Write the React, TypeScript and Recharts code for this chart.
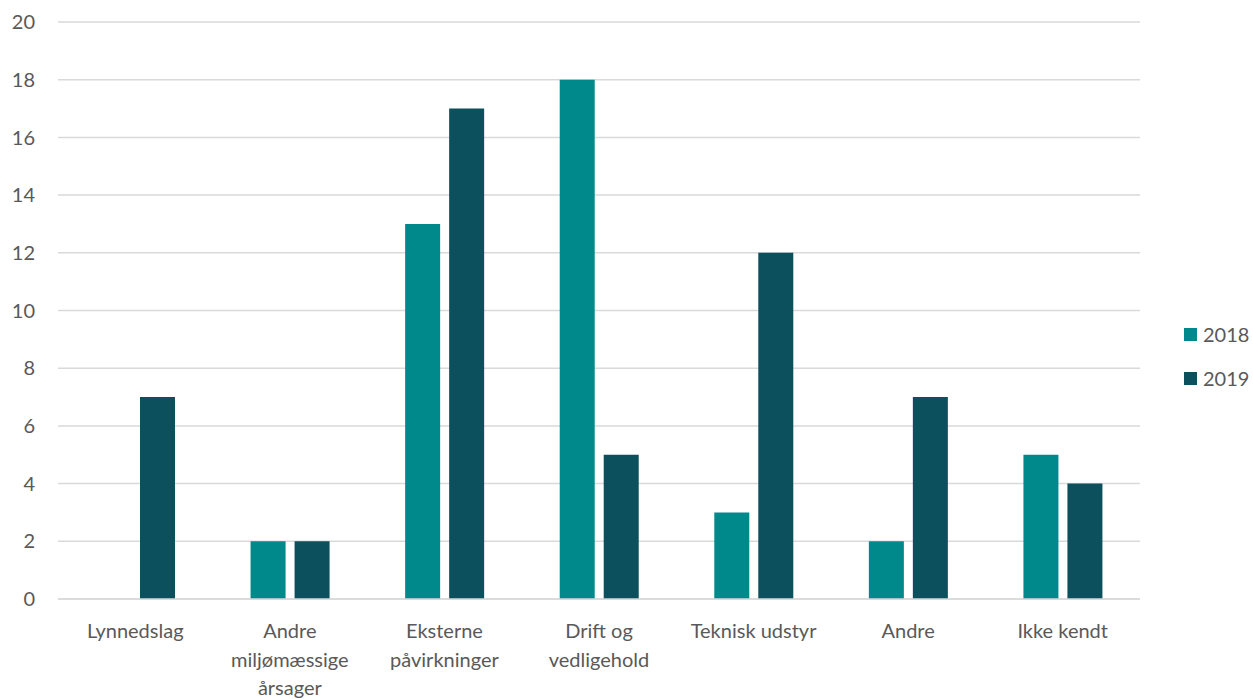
import { BarChart, Bar, XAxis, YAxis, CartesianGrid, Legend } from 'recharts'

const categories = [
  'Lynnedslag',
  'Andre\nmiljømæssige\nårsager',
  'Eksterne\npåvirkninger',
  'Drift og\nvedligehold',
  'Teknisk udstyr',
  'Andre',
  'Ikke kendt',
]
const values2018 = [0, 2, 13, 18, 3, 2, 5]
const values2019 = [7, 2, 17, 5, 12, 7, 4]
const yTicks = [0, 2, 4, 6, 8, 10, 12, 14, 16, 18, 20]

const seriesNames = ['2018', '2019']
const colors = ['#00898A', '#0B505C']

const FONT = 'Lato, "Open Sans", sans-serif'
const TEXT = '#595959'

const data = categories.map((c, i) => ({
  category: c,
  y2018: values2018[i],
  y2019: values2019[i],
}))

// multi-line category label
const CategoryTick = ({ x, y, payload }: any) => {
  const lines = String(payload.value).split('\n')
  return (
    <text x={x} y={y} textAnchor="middle" fill={TEXT} fontSize={20} fontFamily={FONT}>
      {lines.map((l, i) => (
        <tspan key={i} x={x} dy={i === 0 ? 31 : 28.5}>
          {l}
        </tspan>
      ))}
    </text>
  )
}

const LegendContent = () => (
  <div style={{ fontFamily: FONT, fontSize: 20, color: TEXT }}>
    {seriesNames.map((n, i) => (
      <div key={n} style={{ display: 'flex', alignItems: 'center', height: 44 }}>
        <span style={{ width: 13, height: 13, background: colors[i], marginRight: 6, display: 'inline-block' }} />
        {n}
      </div>
    ))}
  </div>
)

export default function App() {
  return (
    <div style={{ position: 'absolute', left: 0, top: 0, background: '#fff' }}>
      <BarChart
        width={1253}
        height={699}
        data={data}
        margin={{ top: 22, right: 113, left: 1, bottom: 0 }}
        barGap={9}
        barSize={35}
      >
        <CartesianGrid vertical={false} stroke="#D9D9D9" strokeWidth={1.5} />
        <XAxis
          dataKey="category"
          tickLine={false}
          axisLine={{ stroke: '#D9D9D9', strokeWidth: 1.5 }}
          tick={<CategoryTick />}
          interval={0}
          height={100}
        />
        <YAxis
          width={57}
          domain={[0, 20]}
          ticks={yTicks}
          axisLine={false}
          tickLine={false}
          tickSize={0}
          tickMargin={23}
          tick={{ fill: TEXT, fontSize: 20, fontFamily: FONT }}
        />
        <Legend
          layout="horizontal"
          verticalAlign="middle"
          align="center"
          content={<LegendContent />}
          wrapperStyle={{ position: 'absolute', left: 1184, top: 312, width: 70 }}
        />
        <Bar dataKey="y2018" name={seriesNames[0]} fill={colors[0]} isAnimationActive={false} />
        <Bar dataKey="y2019" name={seriesNames[1]} fill={colors[1]} isAnimationActive={false} />
      </BarChart>
    </div>
  )
}
